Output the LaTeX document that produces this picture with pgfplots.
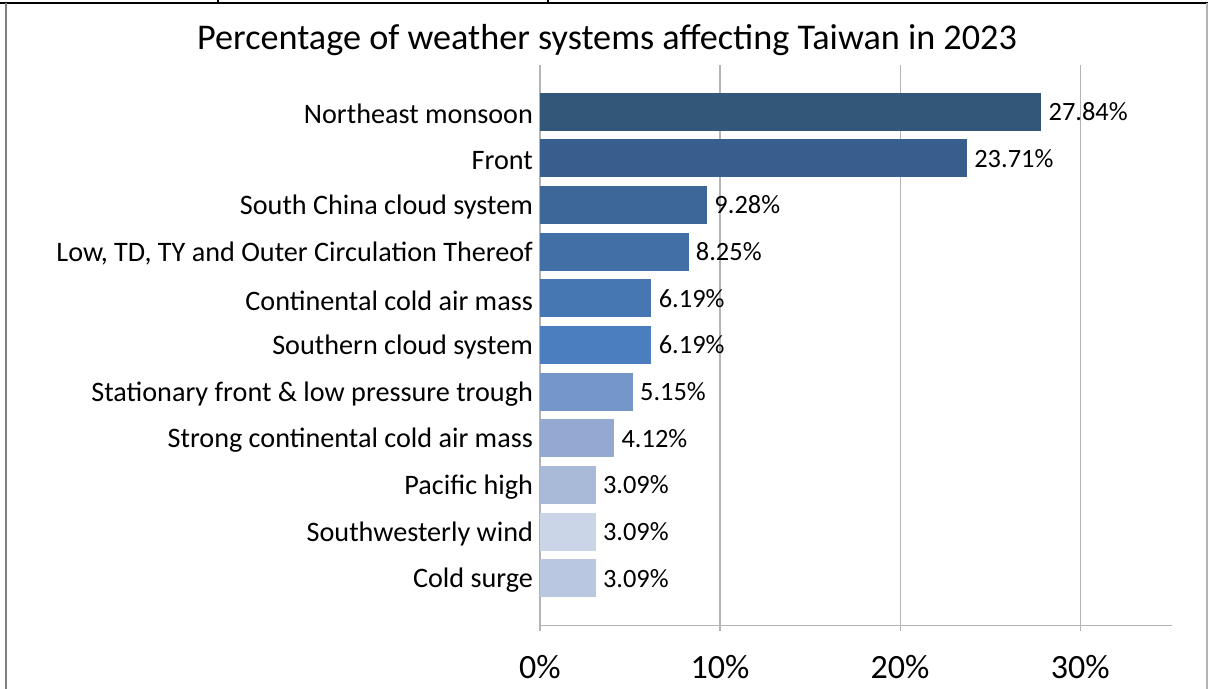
\documentclass[border=0pt]{standalone}
\usepackage{fontspec}
\setmainfont{Carlito}
\usepackage{pgfplots}
\pgfplotsset{compat=1.18}

\definecolor{c1}{HTML}{335779}
\definecolor{c2}{HTML}{375E8C}
\definecolor{c3}{HTML}{3D6699}
\definecolor{c4}{HTML}{4270A6}
\definecolor{c5}{HTML}{4677B3}
\definecolor{c6}{HTML}{4B7EBF}
\definecolor{c7}{HTML}{7496C8}
\definecolor{c8}{HTML}{93A9D2}
\definecolor{c9}{HTML}{A9BAD9}
\definecolor{c10}{HTML}{CBD5E8}
\definecolor{c11}{HTML}{B9C7E1}
\definecolor{gridgray}{HTML}{B4B4B4}

\begin{document}
\begin{tikzpicture}[x=0.5pt,y=0.5pt]
% frame of the surrounding table cell
\draw[black,line width=1.2pt] (0,686) -- (1208,686);
\draw[black,line width=0.8pt] (218,689) -- (218,686) (548,689) -- (548,686);
\draw[gray,line width=1pt] (6,0) -- (6,686);
\draw[gray!60,line width=0.6pt] (1207,0) -- (1207,686);

\node[font=\fontsize{18.1}{20}\selectfont] at (607,649) {Percentage of weather systems affecting Taiwan in 2023};

\begin{axis}[
    at={(270pt,32pt)}, anchor=south west,
    scale only axis,
    width=316pt, height=280pt,
    xbar, bar width=19pt, bar shift=0pt,
    xmin=0, xmax=35.1,
    ymin=-1, ymax=11,
    xtick={0,10,20,30},
    xticklabels={0\%,10\%,20\%,30\%},
    ytick={0,...,10},
    yticklabels={Cold surge,Southwesterly wind,Pacific high,Strong continental cold air mass,Stationary front \& low pressure trough,Southern cloud system,Continental cold air mass,{Low, TD, TY and Outer Circulation Thereof},South China cloud system,Front,Northeast monsoon},
    axis x line*=bottom,
    axis y line*=left,
    x axis line style={gridgray,-},
    y axis line style={draw=none},
    xmajorgrids=true,
    grid style={gridgray,line width=0.6pt},
    major tick length=3pt,
    tick align=outside,
    tick style={gridgray,line width=0.6pt},
    ytick style={draw=none},
    xticklabel style={font=\fontsize{17}{19}\selectfont, yshift=-8.5pt},
    yticklabel style={font=\fontsize{14.1}{16}\selectfont, xshift=3pt, yshift=-1pt},
    point meta=explicit symbolic,
    nodes near coords,
    nodes near coords style={font=\fontsize{13.2}{15}\selectfont, anchor=west, inner sep=1pt, xshift=2.5pt, text=black},
    clip=false,
]
\addplot[fill=c1,draw=none] coordinates {(27.84,10) [27.84\%]};
\addplot[fill=c2,draw=none] coordinates {(23.71,9) [23.71\%]};
\addplot[fill=c3,draw=none] coordinates {(9.28,8) [9.28\%]};
\addplot[fill=c4,draw=none] coordinates {(8.25,7) [8.25\%]};
\addplot[fill=c5,draw=none] coordinates {(6.19,6) [6.19\%]};
\addplot[fill=c6,draw=none] coordinates {(6.19,5) [6.19\%]};
\addplot[fill=c7,draw=none] coordinates {(5.15,4) [5.15\%]};
\addplot[fill=c8,draw=none] coordinates {(4.12,3) [4.12\%]};
\addplot[fill=c9,draw=none] coordinates {(3.09,2) [3.09\%]};
\addplot[fill=c10,draw=none] coordinates {(3.09,1) [3.09\%]};
\addplot[fill=c11,draw=none] coordinates {(3.09,0) [3.09\%]};
\end{axis}
\pgfresetboundingbox
\path[use as bounding box] (0,0) rectangle (1208,689);
\end{tikzpicture}
\end{document}
